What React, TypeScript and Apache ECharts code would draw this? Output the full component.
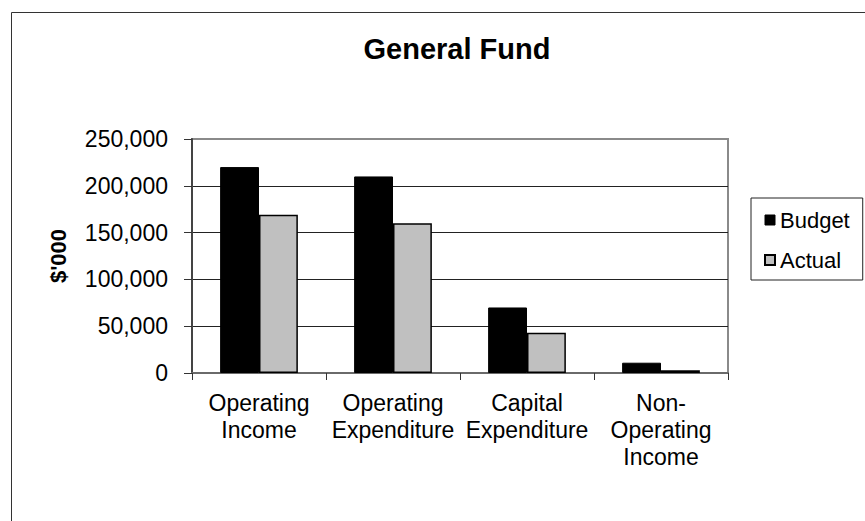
import React, { useEffect, useRef } from "react";
import * as echarts from "echarts";

const categories = [
  "Operating\nIncome",
  "Operating\nExpenditure",
  "Capital\nExpenditure",
  "Non-\nOperating\nIncome",
];
const budgetValues = [220000, 210000, 70000, 11000];
const actualValues = [169000, 160000, 43000, 3000];
const seriesNames = ["Budget", "Actual"];
const titleText = "General Fund";
const yAxisTitle = "$'000";

const FONT = "'Liberation Sans', Arial, sans-serif";

export default function App() {
  const ref = useRef<HTMLDivElement>(null);
  useEffect(() => {
    if (!ref.current) return;
    const chart = echarts.init(ref.current, null, { renderer: "svg" });
    chart.setOption({
      animation: false,
      backgroundColor: "#ffffff",
      textStyle: { fontFamily: FONT },
      grid: {
        left: 192,
        top: 139,
        width: 536,
        height: 234,
        show: true,
        borderColor: "#8a8a8a",
        borderWidth: 2,
        backgroundColor: "transparent",
      },
      legend: {
        orient: "vertical",
        left: 751,
        top: 198,
        padding: [9, 13, 7, 13],
        itemGap: 14,
        itemWidth: 10,
        itemHeight: 10,
        borderColor: "#222",
        borderWidth: 1,
        backgroundColor: "#fff",
        textStyle: { fontSize: 22, color: "#000", fontFamily: FONT, lineHeight: 26 },
        data: [
          { name: seriesNames[0], icon: "rect", itemStyle: { color: "#000", borderColor: "#000", borderWidth: 1 } },
          { name: seriesNames[1], icon: "rect", itemStyle: { color: "#c0c0c0", borderColor: "#000", borderWidth: 2 } },
        ],
      },
      xAxis: {
        type: "category",
        data: categories,
        axisLine: { show: true, lineStyle: { color: "#6a6a6a", width: 2 } },
        axisTick: { show: true, length: 7, interval: 0, lineStyle: { color: "#333", width: 1 } },
        axisLabel: {
          interval: 0,
          fontSize: 23,
          lineHeight: 27,
          color: "#000",
          fontFamily: FONT,
          margin: 16,
        },
      },
      yAxis: {
        type: "value",
        min: 0,
        max: 250000,
        interval: 50000,
        axisLine: { show: true, lineStyle: { color: "#444", width: 2 } },
        axisTick: { show: true, length: 8, lineStyle: { color: "#333", width: 1 } },
        axisLabel: {
          fontSize: 23,
          color: "#000",
          fontFamily: FONT,
          margin: 24,
          formatter: (v: number) => v.toLocaleString("en-US"),
        },
        splitLine: {
          show: true,
          lineStyle: { color: ["#222", "#222", "#222", "#222", "#222", "#8a8a8a"], width: 1 },
        },
      },
      series: [
        {
          name: seriesNames[0],
          type: "bar",
          data: budgetValues,
          barGap: "0%",
          barCategoryGap: "42%",
          itemStyle: { color: "#000", borderColor: "#000", borderWidth: 1 },
        },
        {
          name: seriesNames[1],
          type: "bar",
          data: actualValues,
          barGap: "0%",
          barCategoryGap: "42%",
          itemStyle: { color: "#c0c0c0", borderColor: "#000", borderWidth: 1.5 },
        },
      ],
      graphic: [
        {
          type: "rect",
          left: 9,
          top: 10,
          shape: { x: 0.5, y: 0.5, width: 900, height: 600 },
          style: { fill: "none", stroke: "#333", lineWidth: 1 },
          silent: true,
          z: -1,
        },
        {
          type: "text",
          x: 457,
          y: 49,
          style: {
            text: titleText,
            fontSize: 29,
            fontWeight: "bold",
            fontFamily: FONT,
            fill: "#000",
            textAlign: "center",
            textVerticalAlign: "middle",
          },
        },
        {
          type: "text",
          x: 58,
          y: 256,
          rotation: Math.PI / 2,
          style: {
            text: yAxisTitle,
            fontSize: 22,
            fontWeight: "bold",
            fontFamily: FONT,
            fill: "#000",
            textAlign: "center",
            textVerticalAlign: "middle",
          },
        },
      ],
    });
    return () => chart.dispose();
  }, []);
  return (
    <div
      ref={ref}
      style={{ position: "fixed", left: 0, top: 0, width: 865, height: 521, background: "#fff" }}
    />
  );
}
